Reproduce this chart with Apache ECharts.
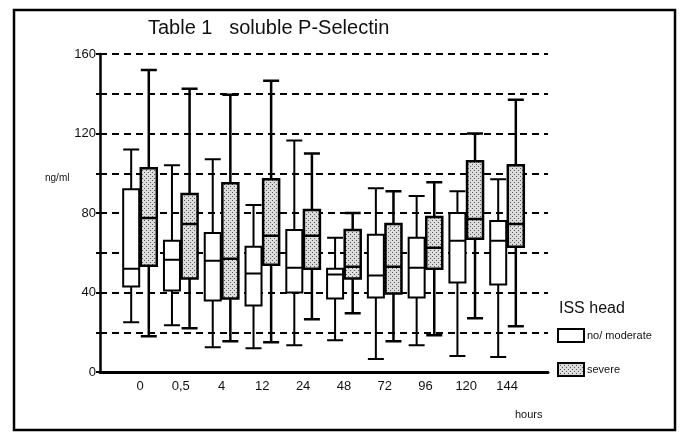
<!DOCTYPE html>
<html>
<head>
<meta charset="utf-8">
<script src="https://cdn.jsdelivr.net/npm/echarts@6/dist/echarts.min.js"></script>
<style>
  html, body { margin: 0; padding: 0; background: #fff; }
  #chart { width: 685px; height: 439px; }
</style>
</head>
<body>
<div id="chart"></div>
<script>
// hours after admission
var hours = ['0', '0,5', '4', '12', '24', '48', '72', '96', '120', '144'];
// [min, Q1, median, Q3, max] in ng/ml
var moderateBoxes = [
    [25, 43, 52, 92, 112],
    [23.5, 41, 56.5, 66, 104],
    [12.5, 36, 56, 70, 107],
    [12, 33.5, 49.5, 63, 84],
    [13.5, 40, 52.5, 71.5, 116.5],
    [16, 37, 49, 52, 67.5],
    [6.5, 37.5, 48.5, 69, 92.5],
    [13.5, 37.5, 52.5, 67.5, 88.5],
    [8, 45, 66, 80, 91],
    [7.5, 44, 66, 76, 97]
];
var severeBoxes = [
    [18, 53.5, 77.5, 102.5, 152],
    [22, 47, 74.5, 89.5, 142.5],
    [15.5, 37, 57, 95, 139.5],
    [15, 54, 68.5, 97, 146.5],
    [26.5, 52, 68.5, 81.5, 110],
    [29.5, 47, 53, 71.5, 80],
    [15.5, 39.5, 53, 74.5, 91],
    [18.5, 52, 62.5, 78, 95.5],
    [27, 67, 77, 106, 120],
    [23, 63, 74.5, 104, 137]
];
var yTicks = [0, 40, 80, 120, 160];

var FONT = 'Liberation Sans';

// stippled fill used for "severe"
var dots = document.createElement('canvas');
dots.width = 4;
dots.height = 4;
var dctx = dots.getContext('2d');
dctx.fillStyle = '#dcdcdc';
dctx.fillRect(0, 0, 4, 4);
dctx.fillStyle = '#5a5a5a';
dctx.fillRect(0, 0, 1, 1);
dctx.fillRect(2, 2, 1, 1);
var severeFill = {image: dots, repeat: 'repeat'};

var myChart = echarts.init(document.getElementById('chart'), null, {renderer: 'canvas'});

var option = {
    animation: false,
    backgroundColor: '#fff',
    title: [{
        text: 'Table 1   soluble P-Selectin',
        left: 143,
        top: 13,
        textStyle: {fontFamily: FONT, fontSize: 20, fontWeight: 'normal', color: '#111'}
    }, {
        text: 'ISS head',
        left: 554,
        top: 296,
        textStyle: {fontFamily: FONT, fontSize: 16, fontWeight: 'normal', color: '#111'}
    }],
    legend: {
        orient: 'vertical',
        left: 557,
        top: 328,
        padding: 0,
        itemGap: 19,
        itemWidth: 26,
        itemHeight: 13,
        icon: 'rect',
        textStyle: {fontFamily: FONT, fontSize: 11, color: '#111', padding: [0, 0, 0, -2]},
        data: [
            {name: 'no/ moderate', itemStyle: {color: '#fff', borderColor: '#000', borderWidth: 2}},
            {name: 'severe', itemStyle: {color: severeFill, borderColor: '#000', borderWidth: 2}}
        ]
    },
    grid: [
        {left: 100, top: 54, width: 448, height: 318},
        {left: 119.6, top: 54, width: 407.8, height: 318}
    ],
    xAxis: [{
        gridIndex: 0,
        type: 'value',
        min: 0,
        max: 1,
        axisLine: {show: true, lineStyle: {color: '#000', width: 3}},
        axisTick: {show: false},
        axisLabel: {show: false},
        splitLine: {show: false}
    }, {
        gridIndex: 1,
        type: 'category',
        data: hours,
        axisLine: {show: false},
        axisTick: {show: false},
        axisLabel: {fontFamily: FONT, fontSize: 13, color: '#111', margin: 8},
        splitLine: {show: false}
    }],
    yAxis: [{
        gridIndex: 0,
        type: 'value',
        min: 0,
        max: 160,
        interval: 20,
        axisLine: {show: true, lineStyle: {color: '#000', width: 2.5}},
        axisTick: {show: true, length: 4, lineStyle: {color: '#000', width: 2}},
        axisLabel: {
            fontFamily: FONT, fontSize: 13, color: '#111', margin: 4,
            formatter: function (v) { return yTicks.indexOf(v) >= 0 ? String(v) : ''; }
        },
        splitLine: {show: true, lineStyle: {color: '#000', width: 2, type: [7, 5]}}
    }, {
        gridIndex: 1,
        type: 'value',
        min: 0,
        max: 160,
        show: false
    }],
    graphic: [{
        type: 'rect',
        shape: {x: 14, y: 10, width: 661, height: 420},
        style: {fill: null, stroke: '#000', lineWidth: 2.5},
        silent: true
    }, {
        type: 'text',
        left: 45,
        top: 173,
        style: {text: 'ng/ml', font: '10px "Liberation Sans"', fill: '#111'}
    }, {
        type: 'text',
        left: 515,
        top: 409,
        style: {text: 'hours', font: '11px "Liberation Sans"', fill: '#111'}
    }],
    series: [{
        name: 'no/ moderate',
        type: 'boxplot',
        xAxisIndex: 1,
        yAxisIndex: 1,
        boxWidth: [16, 16],
        itemStyle: {color: '#fff', borderColor: '#000', borderWidth: 2},
        emphasis: {disabled: true},
        data: moderateBoxes
    }, {
        name: 'severe',
        type: 'boxplot',
        xAxisIndex: 1,
        yAxisIndex: 1,
        boxWidth: [16, 16],
        itemStyle: {color: severeFill, borderColor: '#000', borderWidth: 2.5},
        emphasis: {disabled: true},
        data: severeBoxes
    }]
};
myChart.setOption(option);
</script>
</body>
</html>
